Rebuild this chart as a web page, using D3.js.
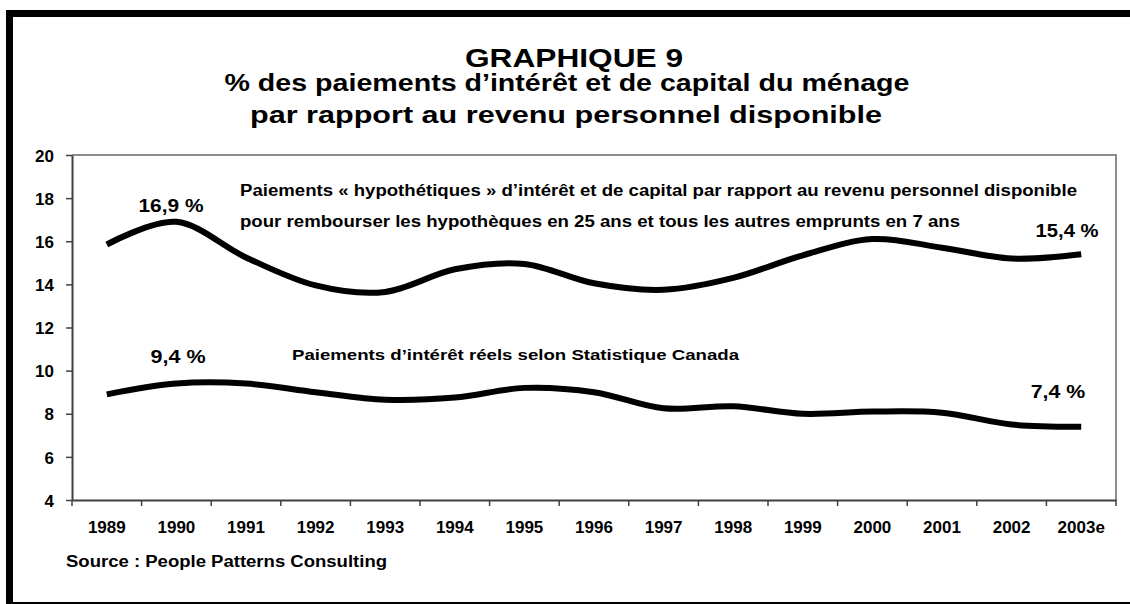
<!DOCTYPE html>
<html>
<head>
<meta charset="utf-8">
<script src="https://cdn.jsdelivr.net/npm/d3@7"></script>
<style>
  body { margin: 0; background: #fff; }
  text { font-family: Arial, "Liberation Sans", sans-serif; font-weight: bold; fill: #000; }
</style>
</head>
<body>
<svg id="chart" width="1130" height="604"></svg>
<script>
// DATA
var years = ["1989","1990","1991","1992","1993","1994","1995","1996","1997","1998","1999","2000","2001","2002","2003e"];
var hypothetical = [15.85, 16.9, 15.25, 13.95, 13.65, 14.7, 14.95, 14.05, 13.75, 14.3, 15.35, 16.1, 15.7, 15.2, 15.4];
var actual = [8.9, 9.4, 9.4, 9.0, 8.65, 8.75, 9.2, 9.0, 8.25, 8.35, 8.0, 8.1, 8.05, 7.5, 7.4];
var yTicks = [4, 6, 8, 10, 12, 14, 16, 18, 20];

// SIZING
var plotLeft = 72, plotRight = 1116, plotTop = 155, plotBottom = 500;

var svg = d3.select("#chart");

// OUTER FRAME (thick top / left, thin bottom)
svg.append("rect").attr("x", 6).attr("y", 10).attr("width", 1124).attr("height", 7).attr("fill", "#000");
svg.append("rect").attr("x", 6).attr("y", 10).attr("width", 7).attr("height", 594).attr("fill", "#000");
svg.append("rect").attr("x", 6).attr("y", 602).attr("width", 1124).attr("height", 2).attr("fill", "#000");

// helper: text stretched to a measured width
function label(str, x, y, size, anchor, width) {
  var t = svg.append("text")
    .attr("x", x).attr("y", y)
    .attr("text-anchor", anchor)
    .style("font-size", size + "px")
    .text(str);
  if (width) t.attr("textLength", width).attr("lengthAdjust", "spacingAndGlyphs");
  return t;
}

// TITLES
label("GRAPHIQUE 9", 574, 67, 26, "middle", 218);
label("% des paiements d\u2019intérêt et de capital du ménage", 567, 91, 23, "middle", 685);
label("par rapport au revenu personnel disponible", 566, 123, 23, "middle", 632);

// SCALES
var x = d3.scaleBand().domain(years).range([plotLeft, plotRight]).padding(0);
var y = d3.scaleLinear().domain([4, 20]).range([plotBottom, plotTop]);
var cx = function(d) { return x(d) + x.bandwidth() / 2; };

// PLOT BORDER (top / right in grey)
svg.append("path")
  .attr("d", "M" + plotLeft + "," + plotTop + "H" + plotRight + "V" + plotBottom)
  .attr("fill", "none").attr("stroke", "#8c8c8c").attr("stroke-width", 2);

// Y AXIS
var yAxis = svg.append("g")
  .attr("transform", "translate(" + plotLeft + ",0)")
  .call(d3.axisLeft(y).tickValues(yTicks).tickSize(6).tickPadding(12).tickSizeOuter(0));
yAxis.select(".domain").attr("stroke", "#404040").attr("stroke-width", 2);
yAxis.selectAll(".tick line").attr("stroke", "#404040").attr("stroke-width", 1.5);
yAxis.selectAll(".tick text")
  .style("font-size", "17px").style("font-family", "Arial, 'Liberation Sans', sans-serif")
  .attr("fill", "#000").attr("dy", "0.36em");

// X AXIS (labels at centres, ticks between categories)
var xAxis = svg.append("g")
  .attr("transform", "translate(0," + plotBottom + ")")
  .call(d3.axisBottom(x).tickSize(0).tickPadding(21).tickSizeOuter(0));
xAxis.select(".domain").attr("stroke", "#404040").attr("stroke-width", 2);
xAxis.selectAll(".tick text")
  .style("font-size", "17px").style("font-family", "Arial, 'Liberation Sans', sans-serif")
  .attr("fill", "#000").attr("dy", "0.71em");

var bounds = years.map(function(d) { return x(d); }).concat([plotRight]);
xAxis.selectAll(".bound")
  .data(bounds)
  .enter()
  .append("line")
  .attr("class", "bound")
  .attr("x1", function(d) { return d; }).attr("x2", function(d) { return d; })
  .attr("y1", 0).attr("y2", 6)
  .attr("stroke", "#404040").attr("stroke-width", 1.5);

// LINES
var line = d3.line()
  .x(function(d, i) { return cx(years[i]); })
  .y(function(d) { return y(d); })
  .curve(d3.curveCardinal.tension(0));

[hypothetical, actual].forEach(function(series) {
  svg.append("path")
    .datum(series)
    .attr("d", line)
    .attr("fill", "none")
    .attr("stroke", "#000")
    .attr("stroke-width", 6)
    .attr("stroke-linejoin", "round");
});

// ANNOTATIONS
label("Paiements « hypothétiques » d\u2019intérêt et de capital par rapport au revenu personnel disponible", 240, 196, 16, "start", 837);
label("pour rembourser les hypothèques en 25 ans et tous les autres emprunts en 7 ans", 240, 227, 16, "start", 720);
label("16,9 %", 171, 211.5, 17.5, "middle", 65);
label("15,4 %", 1067, 236.5, 17.5, "middle", 63);
label("Paiements d\u2019intérêt réels selon Statistique Canada", 292, 360, 15.5, "start", 447);
label("9,4 %", 178, 363, 17.5, "middle", 55);
label("7,4 %", 1058, 397.5, 17.5, "middle", 54.5);

// SOURCE
label("Source : People Patterns Consulting", 66, 566.5, 16, "start", 321);
</script>
</body>
</html>
